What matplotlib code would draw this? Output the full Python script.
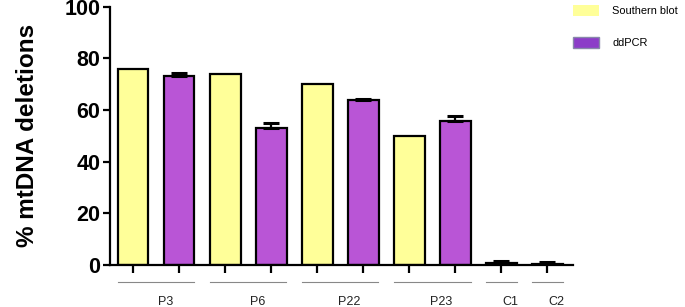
import numpy as np
import matplotlib
matplotlib.use("Agg")
import matplotlib.pyplot as plt
from matplotlib.patches import Patch

plt.rcParams['font.family'] = ['Liberation Sans', 'DejaVu Sans']

# bar order along the x axis
methods = ["SB", "dd", "SB", "dd", "SB", "dd", "SB", "dd", "dd", "dd"]
values = [76, 73.2, 74, 53.1, 70.1, 63.7, 50, 55.7, 0.9, 0.5]
errors = [0, 1.2, 0, 1.9, 0, 0.7, 0, 1.8, 0.5, 0.6]

groups = ["P3", "P6", "P22", "P23", "C1", "C2"]
group_bars = [[0, 1], [2, 3], [4, 5], [6, 7], [8], [9]]

yellow = "#ffff99"
purple = "#b955d6"
legend_purple = "#8c3cc8"

fig = plt.figure(figsize=(6.85, 3.07), dpi=100)
ax = fig.add_axes([0.1606, 0.137, 0.6755, 0.841])

x = np.arange(len(values))
colors = [yellow if m == "SB" else purple for m in methods]
ax.bar(x, values, width=0.67, color=colors, edgecolor="black", linewidth=1.6, zorder=2)

# error bars, upper side only (ddPCR)
for xi, v, e in zip(x, values, errors):
    if e > 0:
        ax.errorbar(xi, v, yerr=[[0], [e]], fmt="none", ecolor="black",
                    elinewidth=1.6, capsize=6, capthick=2.2, zorder=3)

ax.set_xlim(-0.5, 9.55)
ax.set_ylim(0, 100)
ax.set_yticks([0, 20, 40, 60, 80, 100])
ax.set_xticks(x)
ax.set_xticklabels([])
ax.tick_params(axis="y", length=5, width=1.6, labelsize=15.5, pad=2)
ax.tick_params(axis="x", length=6, width=1.6)
for lab in ax.get_yticklabels():
    lab.set_fontweight("bold")
for s in ["top", "right"]:
    ax.spines[s].set_visible(False)
for s in ["left", "bottom"]:
    ax.spines[s].set_linewidth(1.6)

ax.set_ylabel("% mtDNA deletions", fontsize=17.5, fontweight="bold", labelpad=18)

# group underlines and labels
trans = ax.get_xaxis_transform()
for name, bars in zip(groups, group_bars):
    lo, hi = min(bars) - 0.33, max(bars) + 0.33
    ax.plot([lo, hi], [-0.066, -0.066], color="#888888", lw=0.8,
            transform=trans, clip_on=False)
    ax.text((min(bars) + max(bars)) / 2 + 0.2, -0.143, name, transform=trans,
            ha="center", va="center", fontsize=9, color="#222222")

handles = [Patch(facecolor=yellow, edgecolor="none", label="Southern blot"),
           Patch(facecolor=legend_purple, edgecolor="#8888aa", label="ddPCR")]
fig.legend(handles=handles, loc="upper left", bbox_to_anchor=(0.822, 1.015),
           frameon=False, fontsize=7.9, handlelength=2.4, handleheight=1.1,
           labelspacing=1.9, handletextpad=1.2)

fig.savefig("out.png", dpi=100)
